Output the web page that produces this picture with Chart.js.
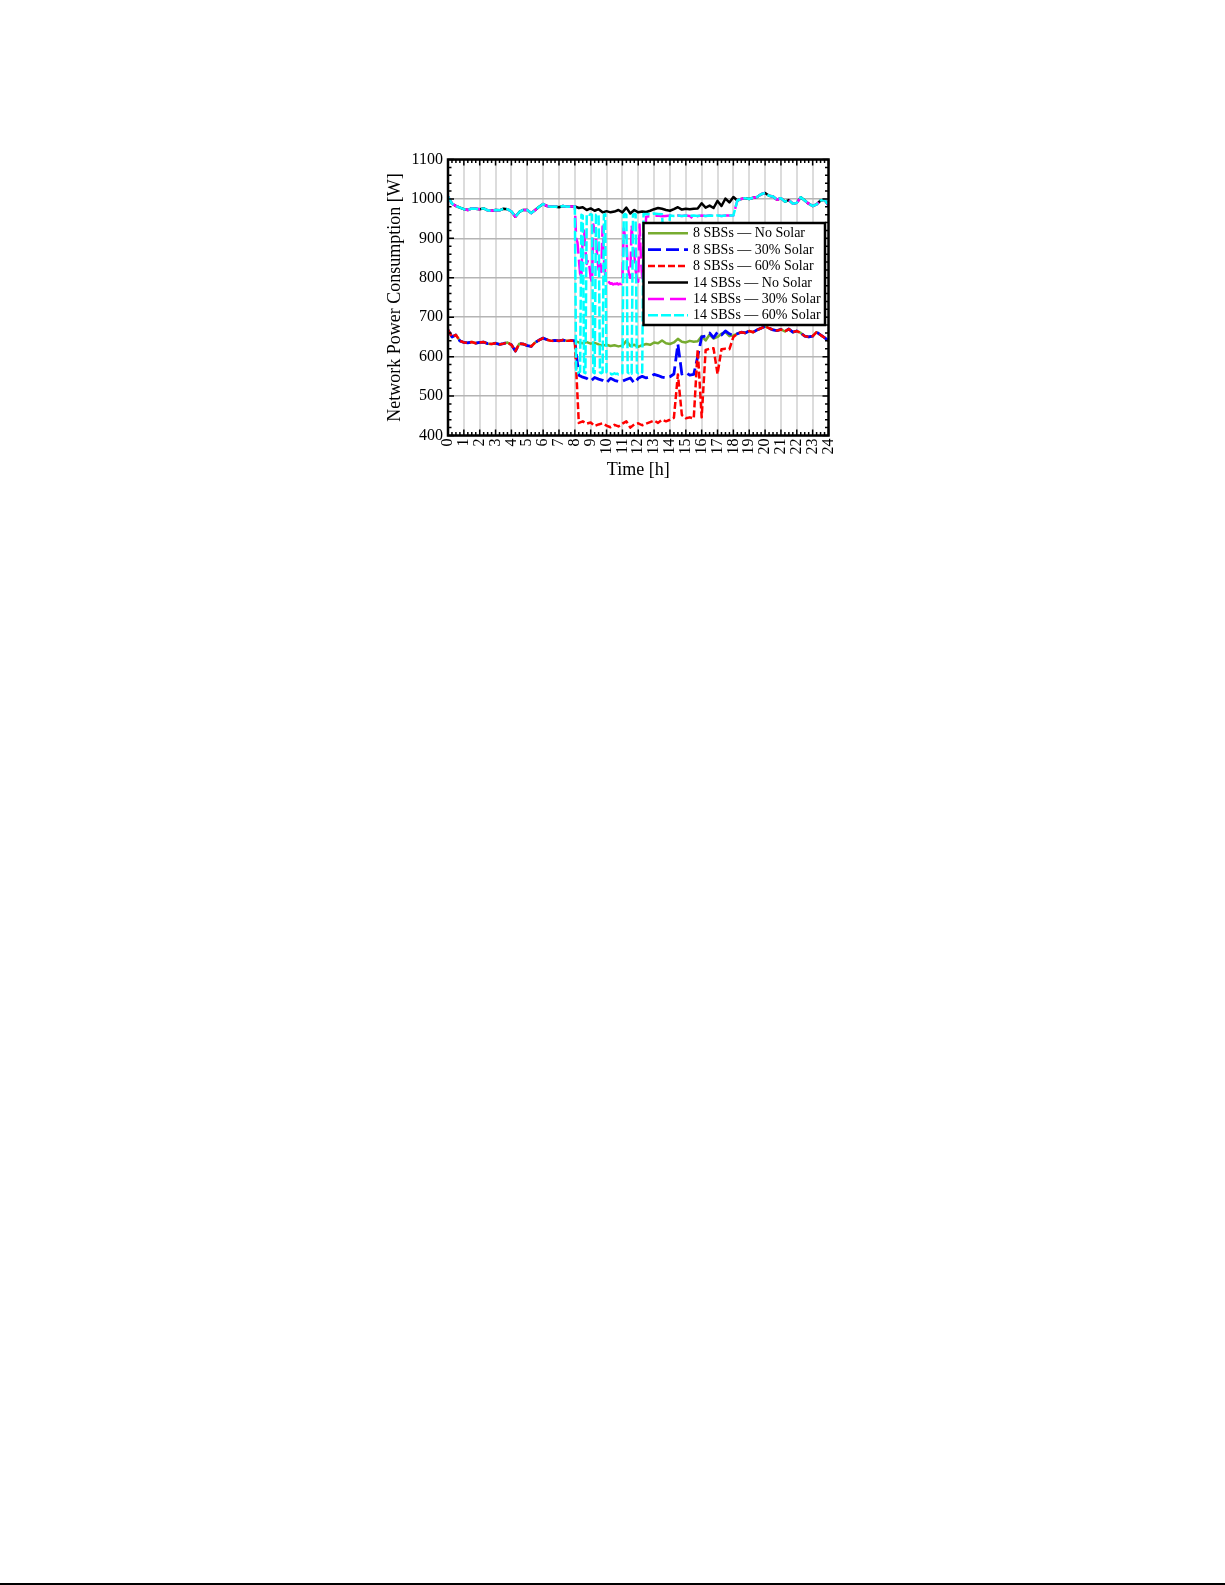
<!DOCTYPE html>
<html>
<head>
<meta charset="utf-8">
<title>Network Power Consumption</title>
<script src="https://cdn.jsdelivr.net/npm/chart.js@4.4.1/dist/chart.umd.min.js"></script>
<style>
  html, body { margin: 0; padding: 0; background: #fff; }
  #wadah { position: relative; width: 1225px; height: 1585px; overflow: hidden; }
  #grafik { position: absolute; left: 0; top: 0; }
  #garis_bawah { position: absolute; left: 0; top: 1583px; width: 1225px; height: 2px; background: #000; }
</style>
</head>
<body>
<div id="wadah">
  <canvas id="grafik" width="1225" height="1585" style="width:1225px;height:1585px"></canvas>
  <div id="garis_bawah"></div>
</div>
<script>
// sumbu waktu biasa: satu titik tiap 15 menit, 0 .. 24 jam
var jam = [];
for (var i = 0; i <= 96; i++) {
  jam.push(i / 4);
}

// sumbu waktu rapat untuk seri 14 SBSs bersolar: 15 menit, lalu 5 menit antara jam 8 dan 12.5
var jam_rapat = [];
for (var i = 0; i <= 32; i++) jam_rapat.push(i / 4);
for (var i = 1; i <= 54; i++) jam_rapat.push(8 + i / 12);
for (var i = 51; i <= 96; i++) jam_rapat.push(i / 4);

var label_sumbu_x = ['0','1','2','3','4','5','6','7','8','9','10','11','12','13','14','15','16','17','18','19','20','21','22','23','24'];
var label_sumbu_y = ['400','500','600','700','800','900','1000','1100'];

var nama_seri = [
  '8 SBSs \u2014 No Solar',
  '8 SBSs \u2014 30% Solar',
  '8 SBSs \u2014 60% Solar',
  '14 SBSs \u2014 No Solar',
  '14 SBSs \u2014 30% Solar',
  '14 SBSs \u2014 60% Solar'
];

// 8 SBSs, tanpa solar (per 15 menit)
var sbs8_tanpa = [
  668, 650, 655, 640,  636, 635, 637, 634,  636, 637, 633, 632,  634, 631, 633, 636,
  630, 614, 633, 632,  628, 626, 636, 642,  647, 643, 640, 641,  640, 642, 640, 641,
  640, 636, 634, 637,  633, 635, 631, 628,  630, 627, 629, 626,  628, 640, 627, 630,
  625, 629, 632, 630,  636, 634, 641, 634,  632, 636, 645, 638,  636, 640, 638, 639,
  652, 641, 656, 646,  650, 658, 662, 652,  654, 658, 662, 660,  665, 662, 668, 672,
  677, 672, 668, 666,  669, 664, 670, 662,  665, 660, 652, 650,  652, 662, 655, 648,
  640
];

// 8 SBSs, 30% solar (per 15 menit)
var sbs8_30 = [
  668, 650, 655, 640,  636, 635, 637, 634,  636, 637, 633, 632,  634, 631, 633, 636,
  630, 614, 633, 632,  628, 626, 636, 642,  647, 643, 640, 641,  640, 642, 640, 641,
  640, 553, 548, 545,  538, 547, 543, 540,  534, 545, 540, 537,  538, 542, 546, 533,
  545, 550, 546, 549,  555, 552, 548, 546,  549, 556, 632, 556,  560, 553, 555, 600,
  650, 652, 660, 648,  662, 655, 665, 658,  654, 658, 662, 660,  665, 662, 668, 672,
  677, 672, 668, 666,  669, 664, 670, 662,  665, 660, 652, 650,  652, 662, 655, 648,
  640
];

// 8 SBSs, 60% solar (per 15 menit)
var sbs8_60 = [
  668, 650, 655, 640,  636, 635, 637, 634,  636, 637, 633, 632,  634, 631, 633, 636,
  630, 614, 633, 632,  628, 626, 636, 642,  647, 643, 640, 641,  640, 642, 640, 641,
  640, 432, 436, 430,  433, 424, 428, 431,  425, 421, 427, 423,  430, 436, 420, 428,
  431, 426, 430, 434,  438, 432, 440, 436,  440, 445, 555, 452,  444, 446, 443, 618,
  446, 617, 620, 621,  556, 619, 620, 619,  650, 658, 662, 660,  665, 662, 668, 672,
  677, 672, 668, 666,  669, 664, 670, 662,  665, 660, 652, 650,  652, 662, 655, 648,
  640
];

// 14 SBSs, tanpa solar (per 15 menit)
var sbs14_tanpa = [
  1006, 988, 982, 978,  974, 972, 976, 975,  974, 976, 971, 970,  972, 971, 975, 974,
  968, 955, 967, 972,  972, 964, 972, 980,  987, 982, 980, 981,  979, 982, 980, 981,
  981, 977, 979, 972,  976, 970, 974, 966,  969, 966, 968, 972,  966, 978, 963, 972,
  966, 968, 967, 970,  974, 977, 975, 972,  970, 974, 979, 973,  975, 974, 975, 976,
  989, 978, 983, 977,  995, 982, 1001, 991,  1005, 996, 1000, 1002,  1000, 1003, 1005, 1012,
  1015, 1008, 1006, 998,  1002, 993, 997, 988,  990, 1004, 996, 988,  982, 986, 996, 998,
  984
];

// 14 SBSs, 30% solar (mengikuti jam_rapat)
var sbs14_30 = [
  // 0 .. 8 jam
  1006, 988, 982, 978,  974, 972, 976, 975,  974, 976, 971, 970,  972, 971, 975, 974,
  968, 955, 967, 972,  972, 964, 972, 980,  987, 982, 980, 981,  979, 982, 980, 981,
  981,
  // 8 .. 12.5 jam, tiap 5 menit
  900, 890, 850, 810, 800, 915, 920, 870, 835, 845, 830, 800,
  790, 935, 915, 905, 850, 820, 845, 815, 930, 850, 805, 800,
  795, 788, 785, 786, 783, 785, 784, 786, 783, 785, 784, 790,
  925, 905, 900, 830, 810, 800, 935, 880, 860, 820, 795, 790,
  935, 850, 800, 795, 900, 955,
  // 12.75 .. 24 jam
  956,
  957, 958, 956, 957,  958, 957, 958, 957,  958, 957, 948, 957,
  958, 957, 958, 957,  958, 957, 958, 958,  958, 996, 1000, 1002,  1000, 1003, 1005, 1012,
  1015, 1008, 1006, 998,  1002, 993, 997, 988,  990, 1004, 996, 988,  982, 986, 996, 998,
  984
];

// 14 SBSs, 60% solar (mengikuti jam_rapat)
var sbs14_60 = [
  // 0 .. 8 jam
  1006, 988, 982, 978,  974, 972, 976, 975,  974, 976, 971, 970,  972, 971, 975, 974,
  968, 955, 967, 972,  972, 964, 972, 980,  987, 982, 980, 981,  979, 982, 980, 981,
  981,
  // 8 .. 12.5 jam, tiap 5 menit
  560, 558, 560, 562, 960, 958, 560, 558, 960, 962, 960, 961,
  960, 560, 558, 960, 962, 960, 560, 558, 560, 960, 961, 560,
  558, 556, 557, 555, 556, 558, 556, 557, 555, 556, 558, 558,
  960, 962, 960, 560, 558, 560, 557, 960, 962, 961, 560, 558,
  560, 558, 560, 962, 961, 962,
  // 12.75 .. 24 jam
  961,
  963, 962, 961, 800,  958, 957, 958, 957,  958, 957, 958, 957,
  958, 957, 958, 957,  958, 957, 958, 958,  958, 996, 1000, 1002,  1000, 1003, 1005, 1012,
  1015, 1008, 1006, 998,  1002, 993, 997, 988,  990, 1004, 996, 988,  982, 986, 996, 998,
  984
];

Chart.defaults.font.family = "'Liberation Serif', 'Times New Roman', Times, serif";
Chart.defaults.color = '#000';

function pasangkan(waktu, nilai) {
  var hasil = [];
  for (var k = 0; k < nilai.length; k++) {
    hasil.push({ x: waktu[k], y: nilai[k] });
  }
  return hasil;
}

function buatSeri(label, data, warna, garis, tebal, urutan) {
  return {
    label: label,
    data: data,
    borderColor: warna,
    backgroundColor: warna,
    borderWidth: tebal,
    borderDash: garis,
    borderJoinStyle: 'round',
    pointRadius: 0,
    fill: false,
    tension: 0,
    order: urutan
  };
}

// bingkai kotak, tick kecil ke dalam, dan legenda di dalam area plot
var bingkai = {
  id: 'bingkai',
  afterDatasetsDraw: function (chart) {
    var ctx = chart.ctx;
    var a = chart.chartArea;
    var sx = chart.scales.x;
    var sy = chart.scales.y;
    ctx.save();
    ctx.setLineDash([]);
    ctx.strokeStyle = '#000';
    ctx.lineWidth = 1.5;
    ctx.beginPath();
    for (var m = 0; m <= 96; m++) {
      var px = sx.getPixelForValue(m / 4);
      var pj = (m % 4 == 0) ? 6 : 3.5;
      ctx.moveTo(px, a.bottom); ctx.lineTo(px, a.bottom - pj);
      ctx.moveTo(px, a.top); ctx.lineTo(px, a.top + pj);
    }
    for (var n = 400; n <= 1100; n += 20) {
      var py = sy.getPixelForValue(n);
      var pj2 = (n % 100 == 0) ? 6 : 3.5;
      ctx.moveTo(a.left, py); ctx.lineTo(a.left + pj2, py);
      ctx.moveTo(a.right, py); ctx.lineTo(a.right - pj2, py);
    }
    ctx.stroke();
    ctx.lineWidth = 2.5;
    ctx.strokeRect(a.left, a.top, a.right - a.left, a.bottom - a.top);

    // legenda
    var kiri = a.right - 185;
    var atas = a.top + 63.5;
    var lebar = 181.5;
    var tinggi = 102;
    ctx.fillStyle = '#fff';
    ctx.fillRect(kiri, atas, lebar, tinggi);
    ctx.lineWidth = 2.5;
    ctx.strokeRect(kiri, atas, lebar, tinggi);
    ctx.font = "14px 'Liberation Serif', 'Times New Roman', serif";
    ctx.textBaseline = 'middle';
    ctx.textAlign = 'left';
    chart.data.datasets.forEach(function (ds, k) {
      var yy = atas + 10.3 + k * 16.4;
      ctx.beginPath();
      ctx.setLineDash(ds.borderDash || []);
      ctx.strokeStyle = ds.borderColor;
      ctx.lineWidth = ds.borderWidth;
      ctx.moveTo(kiri + 4.5, yy);
      ctx.lineTo(kiri + 44.5, yy);
      ctx.stroke();
      ctx.setLineDash([]);
      ctx.fillStyle = '#000';
      ctx.fillText(ds.label, kiri + 49.5, yy + 0.5);
    });
    ctx.restore();
  }
};

new Chart(document.getElementById('grafik'), {
  type: 'line',
  data: {
    datasets: [
      buatSeri(nama_seri[0], pasangkan(jam, sbs8_tanpa), '#77AC30', [], 2.5, 6),
      buatSeri(nama_seri[1], pasangkan(jam, sbs8_30), '#0000FF', [13, 5], 2.8, 5),
      buatSeri(nama_seri[2], pasangkan(jam, sbs8_60), '#FF0000', [7, 3], 2.5, 4),
      buatSeri(nama_seri[3], pasangkan(jam, sbs14_tanpa), '#000000', [], 2.5, 3),
      buatSeri(nama_seri[4], pasangkan(jam_rapat, sbs14_30), '#FF00FF', [16, 6], 2.5, 2),
      buatSeri(nama_seri[5], pasangkan(jam_rapat, sbs14_60), '#00FFFF', [10, 3], 2.5, 1)
    ]
  },
  options: {
    responsive: false,
    devicePixelRatio: 1,
    animation: false,
    parsing: true,
    layout: {
      padding: { left: 380, top: 159.5, right: 396.5, bottom: 1099.5 }
    },
    plugins: {
      legend: { display: false },
      tooltip: { enabled: false }
    },
    scales: {
      x: {
        type: 'linear',
        min: 0,
        max: 24,
        ticks: {
          stepSize: 1,
          autoSkip: false,
          maxRotation: 90,
          minRotation: 90,
          padding: 3,
          font: { size: 16 },
          color: '#000',
          callback: function (v) { return label_sumbu_x[v]; }
        },
        grid: { color: '#dcdcdc', lineWidth: 2, drawTicks: false },
        border: { display: false },
        title: {
          display: true,
          text: 'Time [h]',
          font: { size: 18 },
          color: '#000',
          padding: { top: 0, bottom: 4 }
        },
        afterFit: function (s) { s.height = 50; }
      },
      y: {
        min: 400,
        max: 1100,
        ticks: {
          stepSize: 100,
          padding: 5,
          font: { size: 16 },
          color: '#000',
          callback: function (v) { return label_sumbu_y[(v - 400) / 100]; }
        },
        grid: { color: '#b4b4b4', lineWidth: 1.5, drawTicks: false },
        border: { display: false },
        title: {
          display: true,
          text: 'Network Power Consumption [W]',
          font: { size: 18 },
          color: '#000',
          padding: { top: 4, bottom: 0 }
        },
        afterFit: function (s) { s.width = 68; }
      }
    }
  },
  plugins: [bingkai]
});
</script>
</body>
</html>
